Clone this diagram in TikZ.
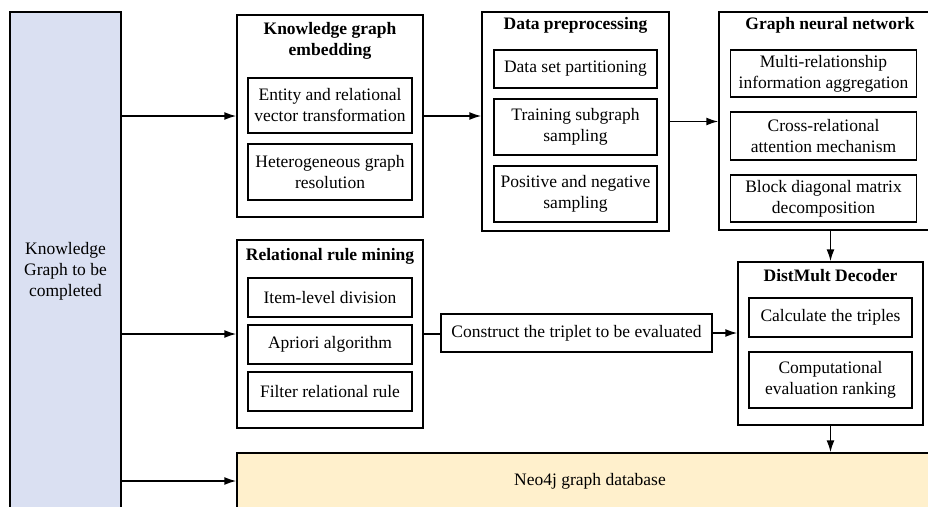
\documentclass[tikz,border=0pt]{standalone}
\usepackage{fontspec}
\setmainfont{Liberation Serif}
\usetikzlibrary{arrows.meta}
\definecolor{kgblue}{HTML}{DAE0F2}
\definecolor{neoyellow}{HTML}{FFF0CC}

\begin{document}
\begin{tikzpicture}
  [
    x                   = 1pt,
    y                   = -1pt,
    every node/.style   = {font=\fontsize{17.5}{21}\selectfont, align=center, inner sep=0pt},
    outer/.style n args = {2}{draw, line width=1.5pt, minimum width=#1, minimum height=#2},
    inner/.style n args = {2}{draw, line width=1.6pt, minimum width=#1, minimum height=#2},
    title/.style        = {font=\fontsize{17.5}{21}\selectfont\bfseries},
    flow/.style         = {line width=1.5pt, -{Latex[length=12pt,width=8pt]}}
  ]
  \useasboundingbox (0,0) rectangle (928,506);

  % input graph
  \node[draw, line width=1.5pt, fill=kgblue, minimum width=111pt, minimum height=518pt] (kg)
    at (65.5,271) {Knowledge\\Graph to be\\completed};

  % knowledge graph embedding
  \node[outer={186pt}{202pt}] (kge) at (330,116) {};
  \node[title] (kgeT) at (330,41) {Knowledge graph\\embedding};
  \node[inner={164pt}{55pt}] (kge1) at (330,105.5) {Entity and relational\\vector transformation};
  \node[inner={164pt}{56pt}] (kge2) at (330,172) {Heterogeneous graph\\resolution};

  % data preprocessing
  \node[outer={187pt}{219pt}] (dp) at (575.5,121.5) {};
  \node[title] (dpT) at (575.5,25) {Data preprocessing};
  \node[inner={163pt}{38pt}] (dp1) at (575.5,69) {Data set partitioning};
  \node[inner={163pt}{56pt}] (dp2) at (575.5,127) {Training subgraph\\sampling};
  \node[inner={163pt}{56pt}] (dp3) at (575.5,194) {Positive and negative\\sampling};

  % graph neural network
  \node[outer={222pt}{218pt}] (gnn) at (830,121) {};
  \node[title] (gnnT) at (830,25) {Graph neural network};
  \node[inner={186pt}{47pt}] (gnn1) at (823.5,73.5) {Multi-relationship\\information aggregation};
  \node[inner={186pt}{48pt}] (gnn2) at (823.5,136) {Cross-relational\\attention mechanism};
  \node[inner={186pt}{47pt}] (gnn3) at (823.5,198.5) {Block diagonal matrix\\decomposition};

  % relational rule mining
  \node[outer={186pt}{188pt}] (rrm) at (330,334) {};
  \node[title] (rrmT) at (330,256) {Relational rule mining};
  \node[inner={164pt}{39pt}] (rrm1) at (330,297.5) {Item-level division};
  \node[inner={164pt}{39pt}] (rrm2) at (330,344.5) {Apriori algorithm};
  \node[inner={164pt}{39pt}] (rrm3) at (330,391.5) {Filter relational rule};

  \node[inner={271pt}{38pt}] (con) at (576.5,333) {Construct the triplet to be evaluated};

  % decoder
  \node[outer={185pt}{163pt}] (dm) at (830.5,343.5) {};
  \node[title] (dmT) at (830.5,276) {DistMult Decoder};
  \node[inner={163pt}{39pt}] (dm1) at (830.5,317.5) {Calculate the triples};
  \node[inner={163pt}{56pt}] (dm2) at (830.5,380) {Computational\\evaluation ranking};

  % database
  \node[draw, line width=1.5pt, fill=neoyellow, minimum width=706pt, minimum height=56pt] (neo)
    at (590,481) {Neo4j graph database};

  \draw[flow] (kg.east |- kge.west) -- (kge.west);
  \draw[flow] (kg.east |- rrm.west) -- (rrm.west);
  \draw[flow] (kg.east |- neo.west) -- (neo.west);
  \draw[flow] (kge.east) -- (kge.east -| dp.west);
  \draw[flow] (dp.east) -- (dp.east -| gnn.west);
  \draw[flow] (dm.north |- gnn.south) -- (dm.north);
  \draw[line width=1.5pt] (rrm.east) -- (rrm.east -| con.west);
  \draw[flow] (con.east) -- (con.east -| dm.west);
  \draw[flow] (dm.south) -- (dm.south |- neo.north);
\end{tikzpicture}
\end{document}
